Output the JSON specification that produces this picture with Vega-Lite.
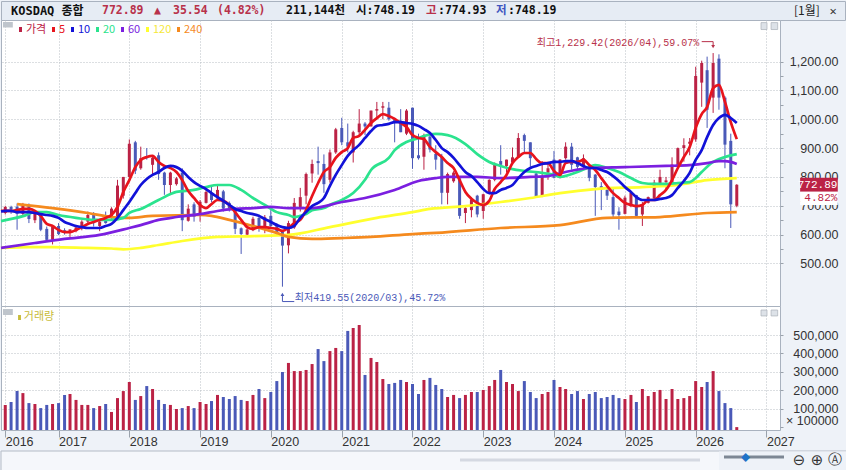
{
  "$schema": "https://vega.github.io/schema/vega-lite/v6.json",
  "description": "KOSDAQ monthly candles with moving averages and volume",
  "background": "#EEF2F8",
  "padding": {"left": -5, "top": 0, "right": 5, "bottom": 0},
  "spacing": 0,
  "bounds": "flush",
  "config": {
    "font": "Liberation Sans",
    "axis": {"labelFont": "Liberation Sans", "labelFontSize": 12.5, "labelColor": "#333333", "title": null, "gridColor": "#B8BEC4", "gridDash": [1, 2], "tickColor": "#9AA2AC", "domain": false},
    "text": {"font": "DejaVu Sans Mono, Noto Sans CJK KR"},
    "legend": {"labelFont": "Noto Sans CJK KR", "labelFontSize": 11}
  },
  "datasets": {
    "candles": [
      {"d":"2016-03-10","ma5":682,"ma10":680},
      {"d":"2016-04-01","o":675,"h":700,"l":670,"c":696,"v":122000,"ma5":682,"ma10":682},
      {"d":"2016-05-01","o":696,"h":700,"l":672,"c":688,"v":138000,"ma5":682,"ma10":682},
      {"d":"2016-06-01","o":697,"h":708,"l":617,"c":672,"v":197000,"ma5":685,"ma10":678},
      {"d":"2016-07-01","o":672,"h":710,"l":668,"c":700,"v":186000,"ma5":689,"ma10":678},
      {"d":"2016-08-01","o":703,"h":708,"l":640,"c":654,"v":132000,"ma5":689,"ma10":678},
      {"d":"2016-09-01","o":650,"h":685,"l":640,"c":675,"v":127000,"ma5":682,"ma10":675},
      {"d":"2016-10-01","o":672,"h":680,"l":612,"c":617,"v":105000,"ma5":665,"ma10":671},
      {"d":"2016-11-01","o":620,"h":628,"l":575,"c":582,"v":122000,"ma5":637,"ma10":668},
      {"d":"2016-12-01","o":582,"h":634,"l":566,"c":627,"v":127000,"ma5":630,"ma10":665},
      {"d":"2017-01-01","o":630,"h":640,"l":598,"c":602,"v":132000,"ma5":616,"ma10":658},
      {"d":"2017-02-01","o":615,"h":622,"l":600,"c":608,"v":176000,"ma5":609,"ma10":644},
      {"d":"2017-03-01","o":610,"h":618,"l":592,"c":618,"v":181000,"ma5":609,"ma10":637},
      {"d":"2017-04-01","o":612,"h":630,"l":608,"c":625,"v":149000,"ma5":616,"ma10":630},
      {"d":"2017-05-01","o":622,"h":650,"l":615,"c":645,"v":122000,"ma5":626,"ma10":626},
      {"d":"2017-06-01","o":645,"h":680,"l":640,"c":668,"v":122000,"ma5":637,"ma10":623},
      {"d":"2017-07-01","o":668,"h":678,"l":628,"c":640,"v":105000,"ma5":644,"ma10":623},
      {"d":"2017-08-01","o":630,"h":655,"l":612,"c":645,"v":116000,"ma5":651,"ma10":623},
      {"d":"2017-09-01","o":665,"h":680,"l":638,"c":640,"v":127000,"ma5":658,"ma10":630},
      {"d":"2017-10-01","o":658,"h":695,"l":655,"c":690,"v":84000,"ma5":668,"ma10":637},
      {"d":"2017-11-01","o":660,"h":790,"l":655,"c":770,"v":159000,"ma5":696,"ma10":658},
      {"d":"2017-12-01","o":735,"h":800,"l":725,"c":800,"v":197000,"ma5":748,"ma10":685},
      {"d":"2018-01-01","o":800,"h":930,"l":800,"c":915,"v":246000,"ma5":789,"ma10":713},
      {"d":"2018-02-01","o":920,"h":925,"l":810,"c":822,"v":149000,"ma5":834,"ma10":744},
      {"d":"2018-03-01","o":830,"h":905,"l":825,"c":865,"v":170000,"ma5":859,"ma10":772},
      {"d":"2018-04-01","o":870,"h":900,"l":860,"c":865,"v":224000,"ma5":869,"ma10":793},
      {"d":"2018-05-01","o":842,"h":872,"l":810,"c":866,"v":208000,"ma5":873,"ma10":807},
      {"d":"2018-06-01","o":875,"h":885,"l":790,"c":810,"v":149000,"ma5":852,"ma10":817},
      {"d":"2018-07-01","o":815,"h":818,"l":738,"c":772,"v":127000,"ma5":838,"ma10":831},
      {"d":"2018-08-01","o":772,"h":818,"l":738,"c":815,"v":122000,"ma5":831,"ma10":838},
      {"d":"2018-09-01","o":775,"h":800,"l":770,"c":795,"v":100000,"ma5":817,"ma10":834},
      {"d":"2018-10-01","o":815,"h":830,"l":612,"c":650,"v":105000,"ma5":789,"ma10":821},
      {"d":"2018-11-01","o":648,"h":705,"l":645,"c":690,"v":116000,"ma5":751,"ma10":800},
      {"d":"2018-12-01","o":705,"h":712,"l":645,"c":662,"v":105000,"ma5":727,"ma10":782},
      {"d":"2019-01-01","o":675,"h":720,"l":645,"c":714,"v":138000,"ma5":703,"ma10":769},
      {"d":"2019-02-01","o":710,"h":765,"l":708,"c":748,"v":127000,"ma5":692,"ma10":758},
      {"d":"2019-03-01","o":745,"h":772,"l":712,"c":720,"v":143000,"ma5":706,"ma10":744},
      {"d":"2019-04-01","o":725,"h":775,"l":720,"c":755,"v":176000,"ma5":720,"ma10":730},
      {"d":"2019-05-01","o":750,"h":755,"l":680,"c":690,"v":165000,"ma5":717,"ma10":717},
      {"d":"2019-06-01","o":710,"h":715,"l":680,"c":692,"v":154000,"ma5":703,"ma10":703},
      {"d":"2019-07-01","o":690,"h":695,"l":602,"c":620,"v":170000,"ma5":678,"ma10":689},
      {"d":"2019-08-01","o":622,"h":625,"l":533,"c":602,"v":149000,"ma5":651,"ma10":682},
      {"d":"2019-09-01","o":600,"h":625,"l":598,"c":618,"v":143000,"ma5":626,"ma10":675},
      {"d":"2019-10-01","o":615,"h":662,"l":612,"c":655,"v":176000,"ma5":620,"ma10":671},
      {"d":"2019-11-01","o":658,"h":670,"l":610,"c":622,"v":208000,"ma5":626,"ma10":665},
      {"d":"2019-12-01","o":625,"h":668,"l":605,"c":660,"v":159000,"ma5":626,"ma10":654},
      {"d":"2020-01-01","o":665,"h":685,"l":625,"c":630,"v":192000,"ma5":623,"ma10":644},
      {"d":"2020-02-01","o":630,"h":640,"l":598,"c":603,"v":251000,"ma5":620,"ma10":633},
      {"d":"2020-03-01","o":610,"h":615,"l":419.55,"c":562,"v":300000,"ma5":613,"ma10":626},
      {"d":"2020-04-01","o":563,"h":648,"l":535,"c":640,"v":349000,"ma5":623,"ma10":623},
      {"d":"2020-05-01","o":625,"h":727,"l":620,"c":710,"v":305000,"ma5":640,"ma10":630},
      {"d":"2020-06-01","o":695,"h":762,"l":680,"c":730,"v":305000,"ma5":651,"ma10":658},
      {"d":"2020-07-01","o":735,"h":815,"l":705,"c":810,"v":311000,"ma5":685,"ma10":678},
      {"d":"2020-08-01","o":812,"h":860,"l":780,"c":845,"v":343000,"ma5":734,"ma10":699},
      {"d":"2020-09-01","o":855,"h":905,"l":808,"c":848,"v":424000,"ma5":779,"ma10":710},
      {"d":"2020-10-01","o":845,"h":878,"l":745,"c":775,"v":359000,"ma5":817,"ma10":727},
      {"d":"2020-11-01","o":790,"h":895,"l":780,"c":885,"v":413000,"ma5":834,"ma10":769},
      {"d":"2020-12-01","o":885,"h":970,"l":880,"c":965,"v":430000,"ma5":866,"ma10":807},
      {"d":"2021-01-01","o":970,"h":1005,"l":910,"c":920,"v":413000,"ma5":886,"ma10":841},
      {"d":"2021-02-01","o":920,"h":985,"l":885,"c":905,"v":522000,"ma5":900,"ma10":873},
      {"d":"2021-03-01","o":885,"h":960,"l":850,"c":955,"v":538000,"ma5":935,"ma10":893},
      {"d":"2021-04-01","o":955,"h":1035,"l":945,"c":985,"v":554000,"ma5":942,"ma10":911},
      {"d":"2021-05-01","o":985,"h":990,"l":945,"c":975,"v":284000,"ma5":963,"ma10":935},
      {"d":"2021-06-01","o":975,"h":1030,"l":975,"c":1030,"v":376000,"ma5":987,"ma10":959},
      {"d":"2021-07-01","o":1030,"h":1060,"l":1005,"c":1035,"v":354000,"ma5":1004,"ma10":977},
      {"d":"2021-08-01","o":1040,"h":1060,"l":1000,"c":1045,"v":262000,"ma5":1018,"ma10":980},
      {"d":"2021-09-01","o":1040,"h":1060,"l":995,"c":1000,"v":235000,"ma5":1011,"ma10":984},
      {"d":"2021-10-01","o":1000,"h":1005,"l":920,"c":990,"v":241000,"ma5":1001,"ma10":990},
      {"d":"2021-11-01","o":995,"h":1035,"l":955,"c":955,"v":257000,"ma5":987,"ma10":990},
      {"d":"2021-12-01","o":950,"h":1035,"l":945,"c":1030,"v":246000,"ma5":973,"ma10":987},
      {"d":"2022-01-01","o":1040,"h":1040,"l":828,"c":865,"v":235000,"ma5":945,"ma10":984},
      {"d":"2022-02-01","o":875,"h":950,"l":860,"c":865,"v":181000,"ma5":935,"ma10":977},
      {"d":"2022-03-01","o":870,"h":950,"l":825,"c":945,"v":257000,"ma5":931,"ma10":966},
      {"d":"2022-04-01","o":940,"h":955,"l":885,"c":895,"v":268000,"ma5":904,"ma10":952},
      {"d":"2022-05-01","o":880,"h":910,"l":825,"c":860,"v":230000,"ma5":886,"ma10":928},
      {"d":"2022-06-01","o":870,"h":880,"l":705,"c":745,"v":208000,"ma5":869,"ma10":900},
      {"d":"2022-07-01","o":745,"h":815,"l":705,"c":810,"v":165000,"ma5":848,"ma10":886},
      {"d":"2022-08-01","o":785,"h":820,"l":780,"c":815,"v":176000,"ma5":831,"ma10":866},
      {"d":"2022-09-01","o":795,"h":800,"l":655,"c":665,"v":159000,"ma5":789,"ma10":841},
      {"d":"2022-10-01","o":675,"h":695,"l":640,"c":692,"v":176000,"ma5":748,"ma10":817},
      {"d":"2022-11-01","o":685,"h":730,"l":660,"c":722,"v":192000,"ma5":724,"ma10":803},
      {"d":"2022-12-01","o":735,"h":738,"l":660,"c":670,"v":192000,"ma5":710,"ma10":782},
      {"d":"2023-01-01","o":682,"h":742,"l":655,"c":740,"v":203000,"ma5":703,"ma10":758},
      {"d":"2023-02-01","o":742,"h":792,"l":740,"c":790,"v":224000,"ma5":717,"ma10":744},
      {"d":"2023-03-01","o":790,"h":850,"l":785,"c":845,"v":257000,"ma5":758,"ma10":744},
      {"d":"2023-04-01","o":855,"h":910,"l":808,"c":842,"v":311000,"ma5":782,"ma10":755},
      {"d":"2023-05-01","o":838,"h":860,"l":815,"c":860,"v":246000,"ma5":807,"ma10":762},
      {"d":"2023-06-01","o":850,"h":902,"l":848,"c":868,"v":235000,"ma5":848,"ma10":772},
      {"d":"2023-07-01","o":870,"h":952,"l":870,"c":935,"v":197000,"ma5":869,"ma10":796},
      {"d":"2023-08-01","o":945,"h":950,"l":885,"c":925,"v":251000,"ma5":883,"ma10":817},
      {"d":"2023-09-01","o":920,"h":920,"l":835,"c":865,"v":192000,"ma5":883,"ma10":831},
      {"d":"2023-10-01","o":812,"h":815,"l":727,"c":727,"v":159000,"ma5":862,"ma10":838},
      {"d":"2023-11-01","o":735,"h":855,"l":730,"c":802,"v":181000,"ma5":848,"ma10":845},
      {"d":"2023-12-01","o":815,"h":850,"l":790,"c":830,"v":192000,"ma5":848,"ma10":848},
      {"d":"2024-01-01","o":860,"h":890,"l":795,"c":797,"v":257000,"ma5":821,"ma10":852},
      {"d":"2024-02-01","o":800,"h":862,"l":795,"c":860,"v":219000,"ma5":807,"ma10":852},
      {"d":"2024-03-01","o":865,"h":920,"l":860,"c":905,"v":208000,"ma5":848,"ma10":855},
      {"d":"2024-04-01","o":905,"h":918,"l":825,"c":842,"v":181000,"ma5":852,"ma10":855},
      {"d":"2024-05-01","o":868,"h":870,"l":818,"c":835,"v":197000,"ma5":852,"ma10":848},
      {"d":"2024-06-01","o":835,"h":878,"l":825,"c":865,"v":154000,"ma5":859,"ma10":838},
      {"d":"2024-07-01","o":835,"h":842,"l":785,"c":797,"v":181000,"ma5":841,"ma10":831},
      {"d":"2024-08-01","o":808,"h":810,"l":665,"c":765,"v":192000,"ma5":824,"ma10":831},
      {"d":"2024-09-01","o":768,"h":782,"l":685,"c":757,"v":159000,"ma5":796,"ma10":824},
      {"d":"2024-10-01","o":755,"h":770,"l":720,"c":735,"v":165000,"ma5":769,"ma10":817},
      {"d":"2024-11-01","o":730,"h":760,"l":660,"c":670,"v":176000,"ma5":744,"ma10":803},
      {"d":"2024-12-01","o":680,"h":695,"l":617,"c":668,"v":159000,"ma5":727,"ma10":786},
      {"d":"2025-01-01","o":672,"h":735,"l":670,"c":728,"v":154000,"ma5":710,"ma10":765},
      {"d":"2025-02-01","o":700,"h":748,"l":695,"c":745,"v":176000,"ma5":703,"ma10":748},
      {"d":"2025-03-01","o":737,"h":738,"l":663,"c":665,"v":138000,"ma5":699,"ma10":730},
      {"d":"2025-04-01","o":670,"h":713,"l":630,"c":705,"v":208000,"ma5":703,"ma10":720},
      {"d":"2025-05-01","o":710,"h":732,"l":708,"c":730,"v":170000,"ma5":720,"ma10":720},
      {"d":"2025-06-01","o":725,"h":790,"l":722,"c":780,"v":192000,"ma5":720,"ma10":720},
      {"d":"2025-07-01","o":778,"h":825,"l":765,"c":800,"v":203000,"ma5":737,"ma10":724},
      {"d":"2025-08-01","o":782,"h":800,"l":755,"c":788,"v":154000,"ma5":755,"ma10":727},
      {"d":"2025-09-01","o":780,"h":868,"l":775,"c":843,"v":208000,"ma5":789,"ma10":737},
      {"d":"2025-10-01","o":835,"h":902,"l":830,"c":900,"v":154000,"ma5":831,"ma10":762},
      {"d":"2025-11-01","o":900,"h":934,"l":853,"c":910,"v":159000,"ma5":869,"ma10":786},
      {"d":"2025-12-01","o":915,"h":935,"l":875,"c":922,"v":170000,"ma5":904,"ma10":814},
      {"d":"2026-01-01","o":930,"h":1182,"l":922,"c":1150,"v":251000,"ma5":970,"ma10":859},
      {"d":"2026-02-01","o":1127,"h":1203,"l":1043,"c":1195,"v":219000,"ma5":1018,"ma10":893},
      {"d":"2026-03-01","o":1170,"h":1217,"l":970,"c":1033,"v":246000,"ma5":1042,"ma10":938},
      {"d":"2026-04-01","o":1075,"h":1229.42,"l":1022,"c":1195,"v":305000,"ma5":1108,"ma10":980},
      {"d":"2026-05-01","o":1210,"h":1225,"l":1033,"c":1075,"v":197000,"ma5":1119,"ma10":1004},
      {"d":"2026-06-01","o":1075,"h":1080,"l":830,"c":912,"v":132000,"ma5":1060,"ma10":1015},
      {"d":"2026-07-01","o":925,"h":950,"l":623,"c":705,"v":105000,"ma5":990,"ma10":1004},
      {"d":"2026-08-01","o":700,"h":774.93,"l":695,"c":772.89,"v":2111,"ma5":931,"ma10":987}
    ],
    "slow": [
      {"d":"2016-03-10","ma":"120","p":554},{"d":"2016-08-01","ma":"120","p":557},{"d":"2016-12-01","ma":"120","p":557},{"d":"2017-06-01","ma":"120","p":554},{"d":"2017-10-01","ma":"120","p":552},{"d":"2017-12-01","ma":"120","p":549},{"d":"2018-03-01","ma":"120","p":554},{"d":"2018-06-01","ma":"120","p":564},{"d":"2018-10-01","ma":"120","p":578},{"d":"2019-04-01","ma":"120","p":592},{"d":"2019-10-01","ma":"120","p":595},{"d":"2020-04-01","ma":"120","p":599},{"d":"2020-11-01","ma":"120","p":626},{"d":"2021-07-01","ma":"120","p":658},{"d":"2022-01-01","ma":"120","p":678},{"d":"2022-04-01","ma":"120","p":689},{"d":"2022-10-01","ma":"120","p":699},{"d":"2023-04-01","ma":"120","p":713},{"d":"2023-09-01","ma":"120","p":727},{"d":"2024-02-01","ma":"120","p":744},{"d":"2024-08-01","ma":"120","p":758},{"d":"2025-04-01","ma":"120","p":765},{"d":"2025-10-01","ma":"120","p":772},{"d":"2026-03-01","ma":"120","p":789},{"d":"2026-08-01","ma":"120","p":796},
      {"d":"2016-06-01","ma":"240","p":706},{"d":"2016-12-01","ma":"240","p":692},{"d":"2017-06-01","ma":"240","p":675},{"d":"2017-10-01","ma":"240","p":661},{"d":"2018-01-01","ma":"240","p":658},{"d":"2018-05-01","ma":"240","p":665},{"d":"2019-01-01","ma":"240","p":668},{"d":"2019-03-01","ma":"240","p":665},{"d":"2019-06-01","ma":"240","p":651},{"d":"2019-10-01","ma":"240","p":630},{"d":"2020-02-01","ma":"240","p":606},{"d":"2020-04-01","ma":"240","p":592},{"d":"2020-08-01","ma":"240","p":585},{"d":"2021-01-01","ma":"240","p":588},{"d":"2021-06-01","ma":"240","p":592},{"d":"2022-01-01","ma":"240","p":602},{"d":"2022-05-01","ma":"240","p":606},{"d":"2023-04-01","ma":"240","p":623},{"d":"2024-02-01","ma":"240","p":633},{"d":"2024-10-01","ma":"240","p":658},{"d":"2025-07-01","ma":"240","p":661},{"d":"2026-03-01","ma":"240","p":675},{"d":"2026-08-01","ma":"240","p":678},
      {"d":"2016-03-10","ma":"20","p":647},{"d":"2016-07-01","ma":"20","p":664},{"d":"2016-09-01","ma":"20","p":678},{"d":"2016-11-01","ma":"20","p":678},{"d":"2017-01-01","ma":"20","p":668},{"d":"2017-04-01","ma":"20","p":658},{"d":"2017-07-01","ma":"20","p":651},{"d":"2017-10-01","ma":"20","p":651},{"d":"2017-12-01","ma":"20","p":658},{"d":"2018-01-01","ma":"20","p":675},{"d":"2018-03-01","ma":"20","p":689},{"d":"2018-06-01","ma":"20","p":720},{"d":"2018-09-01","ma":"20","p":748},{"d":"2018-12-01","ma":"20","p":755},{"d":"2019-02-01","ma":"20","p":765},{"d":"2019-04-01","ma":"20","p":772},{"d":"2019-06-01","ma":"20","p":772},{"d":"2019-08-01","ma":"20","p":755},{"d":"2019-10-01","ma":"20","p":727},{"d":"2019-12-01","ma":"20","p":703},{"d":"2020-02-01","ma":"20","p":678},{"d":"2020-04-01","ma":"20","p":668},{"d":"2020-05-01","ma":"20","p":661},{"d":"2020-06-01","ma":"20","p":665},{"d":"2020-07-01","ma":"20","p":671},{"d":"2020-08-01","ma":"20","p":685},{"d":"2020-10-01","ma":"20","p":692},{"d":"2020-11-01","ma":"20","p":703},{"d":"2021-01-01","ma":"20","p":720},{"d":"2021-03-01","ma":"20","p":744},{"d":"2021-05-01","ma":"20","p":790},{"d":"2021-06-01","ma":"20","p":824},{"d":"2021-09-01","ma":"20","p":866},{"d":"2021-10-01","ma":"20","p":893},{"d":"2021-12-01","ma":"20","p":921},{"d":"2022-02-01","ma":"20","p":935},{"d":"2022-03-01","ma":"20","p":942},{"d":"2022-05-01","ma":"20","p":949},{"d":"2022-07-01","ma":"20","p":945},{"d":"2022-10-01","ma":"20","p":914},{"d":"2022-12-01","ma":"20","p":879},{"d":"2023-02-01","ma":"20","p":852},{"d":"2023-04-01","ma":"20","p":838},{"d":"2023-06-01","ma":"20","p":827},{"d":"2023-08-01","ma":"20","p":821},{"d":"2023-11-01","ma":"20","p":814},{"d":"2024-01-01","ma":"20","p":807},{"d":"2024-02-01","ma":"20","p":800},{"d":"2024-05-01","ma":"20","p":817},{"d":"2024-07-01","ma":"20","p":834},{"d":"2024-08-01","ma":"20","p":841},{"d":"2024-10-01","ma":"20","p":831},{"d":"2024-12-01","ma":"20","p":817},{"d":"2025-02-01","ma":"20","p":796},{"d":"2025-04-01","ma":"20","p":779},{"d":"2025-06-01","ma":"20","p":776},{"d":"2025-08-01","ma":"20","p":776},{"d":"2025-10-01","ma":"20","p":779},{"d":"2025-12-01","ma":"20","p":782},{"d":"2026-01-01","ma":"20","p":796},{"d":"2026-02-01","ma":"20","p":817},{"d":"2026-04-01","ma":"20","p":852},{"d":"2026-06-01","ma":"20","p":869},{"d":"2026-08-01","ma":"20","p":879},
      {"d":"2016-03-10","ma":"60","p":554},{"d":"2016-09-01","ma":"60","p":571},{"d":"2017-02-01","ma":"60","p":585},{"d":"2017-08-01","ma":"60","p":599},{"d":"2018-01-01","ma":"60","p":623},{"d":"2018-03-01","ma":"60","p":633},{"d":"2018-06-01","ma":"60","p":651},{"d":"2018-09-01","ma":"60","p":661},{"d":"2019-01-01","ma":"60","p":671},{"d":"2019-04-01","ma":"60","p":682},{"d":"2019-07-01","ma":"60","p":689},{"d":"2019-10-01","ma":"60","p":692},{"d":"2020-01-01","ma":"60","p":696},{"d":"2020-04-01","ma":"60","p":692},{"d":"2020-08-01","ma":"60","p":692},{"d":"2021-01-01","ma":"60","p":713},{"d":"2021-05-01","ma":"60","p":727},{"d":"2021-10-01","ma":"60","p":755},{"d":"2022-02-01","ma":"60","p":786},{"d":"2022-05-01","ma":"60","p":796},{"d":"2022-07-01","ma":"60","p":800},{"d":"2022-12-01","ma":"60","p":800},{"d":"2023-04-01","ma":"60","p":796},{"d":"2023-09-01","ma":"60","p":800},{"d":"2023-12-01","ma":"60","p":803},{"d":"2024-03-01","ma":"60","p":817},{"d":"2024-07-01","ma":"60","p":831},{"d":"2025-01-01","ma":"60","p":834},{"d":"2025-08-01","ma":"60","p":838},{"d":"2025-12-01","ma":"60","p":841},{"d":"2026-03-01","ma":"60","p":848},{"d":"2026-05-01","ma":"60","p":855},{"d":"2026-06-01","ma":"60","p":855},{"d":"2026-07-01","ma":"60","p":852},{"d":"2026-08-01","ma":"60","p":845}
    ]
  },
  "vconcat": [
    {
      "width": 844,
      "height": 19,
      "view": {"fill": "#E6ECF4", "stroke": "#A9B2BF"},
      "data": {"values": [{}]},
      "layer": [
        {"mark": {"type": "text", "align": "left", "fontWeight": "bold", "fontSize": 12, "text": "KOSDAQ 종합", "color": "#111111"}, "encoding": {"x": {"datum": 10, "type": "quantitative", "scale": {"domain": [0, 844]}, "axis": null}}},
        {"mark": {"type": "text", "align": "left", "fontWeight": "bold", "fontSize": 11.5, "text": "772.89", "color": "#B8314A"}, "encoding": {"x": {"datum": 101, "type": "quantitative", "scale": {"domain": [0, 844]}, "axis": null}}},
        {"mark": {"type": "text", "align": "left", "fontWeight": "bold", "fontSize": 11.5, "text": "▲", "color": "#B8314A"}, "encoding": {"x": {"datum": 153, "type": "quantitative", "scale": {"domain": [0, 844]}, "axis": null}}},
        {"mark": {"type": "text", "align": "left", "fontWeight": "bold", "fontSize": 11.5, "text": "35.54", "color": "#B8314A"}, "encoding": {"x": {"datum": 172, "type": "quantitative", "scale": {"domain": [0, 844]}, "axis": null}}},
        {"mark": {"type": "text", "align": "left", "fontWeight": "bold", "fontSize": 11.5, "text": "(4.82%)", "color": "#B8314A"}, "encoding": {"x": {"datum": 216, "type": "quantitative", "scale": {"domain": [0, 844]}, "axis": null}}},
        {"mark": {"type": "text", "align": "left", "fontWeight": "bold", "fontSize": 11.5, "text": "211,144천", "color": "#111111"}, "encoding": {"x": {"datum": 285, "type": "quantitative", "scale": {"domain": [0, 844]}, "axis": null}}},
        {"mark": {"type": "text", "align": "left", "fontWeight": "bold", "fontSize": 11.5, "text": "시:748.19", "color": "#111111"}, "encoding": {"x": {"datum": 355, "type": "quantitative", "scale": {"domain": [0, 844]}, "axis": null}}},
        {"mark": {"type": "text", "align": "left", "fontWeight": "bold", "fontSize": 11.5, "text": "고", "color": "#B8314A"}, "encoding": {"x": {"datum": 425, "type": "quantitative", "scale": {"domain": [0, 844]}, "axis": null}}},
        {"mark": {"type": "text", "align": "left", "fontWeight": "bold", "fontSize": 11.5, "text": ":774.93", "color": "#111111"}, "encoding": {"x": {"datum": 437, "type": "quantitative", "scale": {"domain": [0, 844]}, "axis": null}}},
        {"mark": {"type": "text", "align": "left", "fontWeight": "bold", "fontSize": 11.5, "text": "저", "color": "#3F55C0"}, "encoding": {"x": {"datum": 495, "type": "quantitative", "scale": {"domain": [0, 844]}, "axis": null}}},
        {"mark": {"type": "text", "align": "left", "fontWeight": "bold", "fontSize": 11.5, "text": ":748.19", "color": "#111111"}, "encoding": {"x": {"datum": 507, "type": "quantitative", "scale": {"domain": [0, 844]}, "axis": null}}},
        {"mark": {"type": "text", "align": "left", "font": "Noto Sans CJK KR", "fontSize": 12, "text": "[1월]", "color": "#222222"}, "encoding": {"x": {"datum": 793, "type": "quantitative", "scale": {"domain": [0, 844]}, "axis": null}}},
        {"mark": {"type": "text", "align": "center", "fontWeight": "bold", "fontSize": 12, "text": "✕", "color": "#333333"}, "encoding": {"x": {"datum": 832, "type": "quantitative", "scale": {"domain": [0, 844]}, "axis": null}}}
      ]
    },
    {
      "width": 779,
      "height": 286,
      "view": {"fill": "#FFFFFF", "stroke": "#A9B2BF"},
      "encoding": {
        "x": {
          "field": "d",
          "type": "temporal",
          "scale": {"type": "utc", "domain": ["2016-03-10", "2027-03-12"], "padding": 0},
          "axis": {"values": ["2016-04-01", "2017-01-01", "2018-01-01", "2019-01-01", "2020-01-01", "2021-01-01", "2022-01-01", "2023-01-01", "2024-01-01", "2025-01-01", "2026-01-01", "2027-01-01"], "grid": true, "labels": false, "ticks": false, "minExtent": 0, "maxExtent": 0}
        },
        "y": {
          "field": "p",
          "type": "quantitative",
          "scale": {"domain": [352.6, 1344], "nice": false, "zero": false},
          "axis": {
            "orient": "right",
            "values": [500, 550, 600, 650, 700, 750, 800, 850, 900, 950, 1000, 1050, 1100, 1150, 1200],
            "labelExpr": "datum.value % 100 == 0 ? format(datum.value, ',.2f') : ''",
            "labelOverlap": false,
            "labelAlign": "right",
            "labelPadding": 55,
            "tickSize": 3,
            "grid": true,
            "gridOpacity": {"condition": {"test": "datum.value % 100 == 0", "value": 1}, "value": 0},
            "minExtent": 65,
            "maxExtent": 65
          }
        }
      },
      "layer": [
        {
          "data": {"name": "candles"},
          "mark": {"type": "rule", "strokeWidth": 1},
          "encoding": {
            "y": {"field": "l", "type": "quantitative", "scale": {"domain": [352.6, 1344], "nice": false, "zero": false}},
            "y2": {"field": "h"},
            "color": {"condition": {"test": "datum.c >= datum.o", "value": "#BB2245"}, "value": "#4A59B8"}
          }
        },
        {
          "data": {"name": "candles"},
          "mark": {"type": "bar", "size": 3},
          "encoding": {
            "y": {"field": "o", "type": "quantitative", "scale": {"domain": [352.6, 1344], "nice": false, "zero": false}},
            "y2": {"field": "c"},
            "color": {"condition": {"test": "datum.c >= datum.o", "value": "#BB2245"}, "value": "#4A59B8"}
          }
        },
        {
          "data": {"name": "slow"},
          "mark": {"type": "line", "strokeWidth": 2.7, "interpolate": "monotone"},
          "encoding": {
            "color": {
              "field": "ma",
              "type": "nominal",
              "scale": {"domain": ["가격", "5", "10", "20", "60", "120", "240"], "range": ["#BB2245", "#E8141C", "#1212D8", "#2BE38E", "#7B1FE0", "#FFFF2E", "#F58A1E"]},
              "legend": {
                "values": ["가격", "5", "10", "20", "60", "120", "240"],
                "orient": "none",
                "legendX": 14,
                "legendY": 23,
                "zindex": 1,
                "direction": "horizontal",
                "title": null,
                "gridAlign": "none",
                "columns": 7,
                "symbolType": "M0,-1L0,1",
                "symbolSize": 25,
                "symbolStrokeWidth": 3,
                "labelOffset": 0,
                "columnPadding": 0,
                "labelColor": {"expr": "{'가격':'#BB2245','5':'#E8141C','10':'#1212D8','20':'#2BE38E','60':'#7B1FE0','120':'#F5E83A','240':'#F58A1E'}[datum.label]"}
              }
            }
          }
        },
        {
          "data": {"name": "candles"},
          "mark": {"type": "line", "strokeWidth": 2.7, "interpolate": "monotone"},
          "encoding": {
            "y": {"field": "ma5", "type": "quantitative", "scale": {"domain": [352.6, 1344], "nice": false, "zero": false}},
            "color": {"datum": "5"}
          }
        },
        {
          "data": {"name": "candles"},
          "mark": {"type": "line", "strokeWidth": 2.7, "interpolate": "monotone"},
          "encoding": {
            "y": {"field": "ma10", "type": "quantitative", "scale": {"domain": [352.6, 1344], "nice": false, "zero": false}},
            "color": {"datum": "10"}
          }
        },
        {
          "data": {"values": [{"d": "2016-03-20", "d2": "2016-05-10", "p": 1337, "p2": 1318}]},
          "mark": {"type": "rect", "color": "#BFC5CC"},
          "encoding": {"x2": {"field": "d2"}, "y2": {"field": "p2"}}
        },
        {
          "data": {"values": [{"d": "2026-12-04", "d2": "2027-01-04", "p": 1335, "p2": 1311}, {"d": "2027-01-25", "d2": "2027-02-28", "p": 1335, "p2": 1311}]},
          "mark": {"type": "rect", "fill": "#DDE2E8", "stroke": "#AAB0B8", "strokeWidth": 0.7},
          "encoding": {"x2": {"field": "d2"}, "y2": {"field": "p2"}}
        },
        {
          "data": {"values": [{"d": "2026-02-01", "d2": "2026-04-01", "p": 1269, "p2": 1269}, {"d": "2026-04-01", "d2": "2026-04-01", "p": 1269, "p2": 1255}]},
          "mark": {"type": "rule", "color": "#B8314A", "strokeWidth": 1},
          "encoding": {"x2": {"field": "d2"}, "y2": {"field": "p2"}}
        },
        {
          "data": {"values": [{"d": "2020-03-01", "d2": "2020-03-01", "p": 391, "p2": 368}, {"d": "2020-03-01", "d2": "2020-05-01", "p": 368, "p2": 368}]},
          "mark": {"type": "rule", "color": "#4A59B8", "strokeWidth": 1},
          "encoding": {"x2": {"field": "d2"}, "y2": {"field": "p2"}}
        },
        {
          "data": {"values": [{"d": "2026-04-01", "p": 1252}]},
          "mark": {"type": "point", "shape": "triangle-down", "filled": true, "size": 14, "color": "#B8314A", "opacity": 1}
        },
        {
          "data": {"values": [{"d": "2020-03-01", "p": 393}]},
          "mark": {"type": "point", "shape": "triangle-up", "filled": true, "size": 14, "color": "#4A59B8", "opacity": 1}
        },
        {
          "data": {"values": [{"d": "2026-01-19", "p": 1264, "t": "최고1,229.42(2026/04),59.07%"}]},
          "mark": {"type": "text", "align": "right", "font": "Liberation Mono, Noto Sans CJK KR", "fontSize": 10, "color": "#B8314A"},
          "encoding": {"text": {"field": "t"}}
        },
        {
          "data": {"values": [{"d": "2020-05-04", "p": 378.6, "t": "최저419.55(2020/03),45.72%"}]},
          "mark": {"type": "text", "align": "left", "font": "Liberation Mono, Noto Sans CJK KR", "fontSize": 10, "color": "#4A59B8"},
          "encoding": {"text": {"field": "t"}}
        },
        {
          "data": {"values": [{"d": "2027-06-24", "d2": "2028-01-04", "p": 797, "p2": 748.8}]},
          "mark": {"type": "rect", "color": "#BB2245"},
          "encoding": {"x2": {"field": "d2"}, "y2": {"field": "p2"}}
        },
        {
          "data": {"values": [{"d": "2027-06-24", "d2": "2028-01-04", "p": 748.8, "p2": 703}]},
          "mark": {"type": "rect", "color": "#FFFFFF"},
          "encoding": {"x2": {"field": "d2"}, "y2": {"field": "p2"}}
        },
        {
          "data": {"values": [{"d": "2028-01-02", "p": 772, "t": "772.89"}]},
          "mark": {"type": "text", "align": "right", "font": "Liberation Mono", "fontSize": 11, "color": "#FFFFFF"},
          "encoding": {"text": {"field": "t"}}
        },
        {
          "data": {"values": [{"d": "2028-01-02", "p": 726, "t": "4.82%"}]},
          "mark": {"type": "text", "align": "right", "font": "Liberation Mono", "fontSize": 11, "color": "#BB2245"},
          "encoding": {"text": {"field": "t"}}
        }
      ]
    },
    {
      "width": 779,
      "height": 124,
      "view": {"fill": "#FFFFFF", "stroke": "#A9B2BF"},
      "encoding": {
        "x": {
          "field": "d",
          "type": "temporal",
          "scale": {"type": "utc", "domain": ["2016-03-10", "2027-03-12"], "padding": 0},
          "axis": {"values": ["2016-04-01", "2017-01-01", "2018-01-01", "2019-01-01", "2020-01-01", "2021-01-01", "2022-01-01", "2023-01-01", "2024-01-01", "2025-01-01", "2026-01-01", "2027-01-01"], "format": "%Y", "grid": true, "tickSize": 7, "labelAlign": "left", "labelBaseline": "middle", "labelPadding": 4, "labelOverlap": false, "labelFlush": false, "minExtent": 21, "maxExtent": 21}
        },
        "y": {
          "field": "v",
          "type": "quantitative",
          "scale": {"domain": [-13514, 656757], "nice": false, "zero": false},
          "axis": {
            "orient": "right",
            "values": [0, 100000, 200000, 300000, 400000, 500000],
            "labelExpr": "datum.value == 0 ? '× 100000' : format(datum.value, ',.0f')",
            "labelOverlap": false,
            "labelAlign": "right",
            "labelBaseline": {"condition": {"test": "datum.value == 0", "value": "bottom"}, "value": "middle"},
            "labelPadding": 55,
            "tickSize": 3,
            "grid": true,
            "gridOpacity": {"condition": {"test": "datum.value == 0", "value": 0}, "value": 1},
            "minExtent": 65,
            "maxExtent": 65
          }
        }
      },
      "layer": [
        {
          "data": {"name": "candles"},
          "mark": {"type": "bar", "size": 3},
          "encoding": {
            "y2": {"datum": -13514},
            "color": {"condition": {"test": "datum.c >= datum.o", "value": "#BB2245"}, "value": "#4A59B8"}
          }
        },
        {
          "data": {"values": [{"d": "2016-03-20", "d2": "2016-05-10", "v": 640000, "v2": 608000}]},
          "mark": {"type": "rect", "color": "#BFC5CC"},
          "encoding": {"x2": {"field": "d2"}, "y2": {"field": "v2"}}
        },
        {
          "data": {"values": [{"d": "2026-12-04", "d2": "2027-01-04", "v": 635000, "v2": 603000}, {"d": "2027-01-25", "d2": "2027-02-28", "v": 635000, "v2": 603000}]},
          "mark": {"type": "rect", "fill": "#DDE2E8", "stroke": "#AAB0B8", "strokeWidth": 0.7},
          "encoding": {"x2": {"field": "d2"}, "y2": {"field": "v2"}}
        },
        {
          "data": {"values": [{"d": "2016-06-06", "d2": "2016-06-21", "v": 608000, "v2": 581000}]},
          "mark": {"type": "rect", "color": "#C8BC3A"},
          "encoding": {"x2": {"field": "d2"}, "y2": {"field": "v2"}}
        },
        {
          "data": {"values": [{"d": "2016-07-06", "v": 594600, "t": "거래량"}]},
          "mark": {"type": "text", "align": "left", "font": "Noto Sans CJK KR", "fontSize": 11, "color": "#C8BC3A"},
          "encoding": {"text": {"field": "t"}}
        }
      ]
    },
    {
      "width": 844,
      "height": 40,
      "view": {"stroke": null},
      "data": {"values": [{}]},
      "layer": [
        {
          "mark": {"type": "rect", "color": "#F5F7FB", "stroke": "#B4BBC6", "strokeWidth": 1},
          "encoding": {
            "x": {"datum": 0, "type": "quantitative", "scale": {"domain": [0, 844]}, "axis": null},
            "x2": {"datum": 846},
            "y": {"datum": 19, "type": "quantitative", "scale": {"domain": [0, 40]}, "axis": null},
            "y2": {"datum": -2}
          }
        },
        {
          "mark": {"type": "rect", "color": "#EEF2F8"},
          "encoding": {
            "x": {"datum": 718, "type": "quantitative", "scale": {"domain": [0, 844]}, "axis": null},
            "x2": {"datum": 846},
            "y": {"datum": 18.5, "type": "quantitative", "scale": {"domain": [0, 40]}, "axis": null},
            "y2": {"datum": 0}
          }
        },
        {
          "mark": {"type": "rule", "color": "#D5D9E2", "strokeWidth": 3},
          "encoding": {
            "x": {"datum": 459, "type": "quantitative", "scale": {"domain": [0, 844]}, "axis": {"values": [723, 727, 731, 735, 739, 743, 747, 751, 755, 759, 763, 767, 771, 775, 779, 783], "labels": false, "grid": false, "tickSize": 4, "tickColor": "#444444", "offset": -5, "minExtent": 0, "maxExtent": 0}},
            "x2": {"datum": 699},
            "y": {"datum": 10, "type": "quantitative", "scale": {"domain": [0, 40]}, "axis": null}
          }
        },
        {
          "mark": {"type": "rule", "color": "#7D8794", "strokeWidth": 3},
          "encoding": {
            "x": {"datum": 723, "type": "quantitative", "scale": {"domain": [0, 844]}, "axis": null},
            "x2": {"datum": 783},
            "y": {"datum": 13, "type": "quantitative", "scale": {"domain": [0, 40]}, "axis": null}
          }
        },
        {
          "mark": {"type": "text", "text": "⬥", "fontSize": 13, "color": "#1F73C8"},
          "encoding": {
            "x": {"datum": 744, "type": "quantitative", "scale": {"domain": [0, 844]}, "axis": null},
            "y": {"datum": 13, "type": "quantitative", "scale": {"domain": [0, 40]}, "axis": null}
          }
        },
        {"mark": {"type": "text", "text": "⊖", "font": "DejaVu Sans", "fontSize": 15, "color": "#333333"}, "encoding": {"x": {"datum": 798, "type": "quantitative", "scale": {"domain": [0, 844]}, "axis": null}, "y": {"datum": 10, "type": "quantitative", "scale": {"domain": [0, 40]}, "axis": null}}},
        {"mark": {"type": "text", "text": "⊕", "font": "DejaVu Sans", "fontSize": 15, "color": "#333333"}, "encoding": {"x": {"datum": 816, "type": "quantitative", "scale": {"domain": [0, 844]}, "axis": null}, "y": {"datum": 10, "type": "quantitative", "scale": {"domain": [0, 40]}, "axis": null}}},
        {"mark": {"type": "text", "text": "Ⓐ", "font": "DejaVu Sans", "fontSize": 14, "color": "#333333"}, "encoding": {"x": {"datum": 834, "type": "quantitative", "scale": {"domain": [0, 844]}, "axis": null}, "y": {"datum": 10, "type": "quantitative", "scale": {"domain": [0, 40]}, "axis": null}}}
      ]
    }
  ]
}
